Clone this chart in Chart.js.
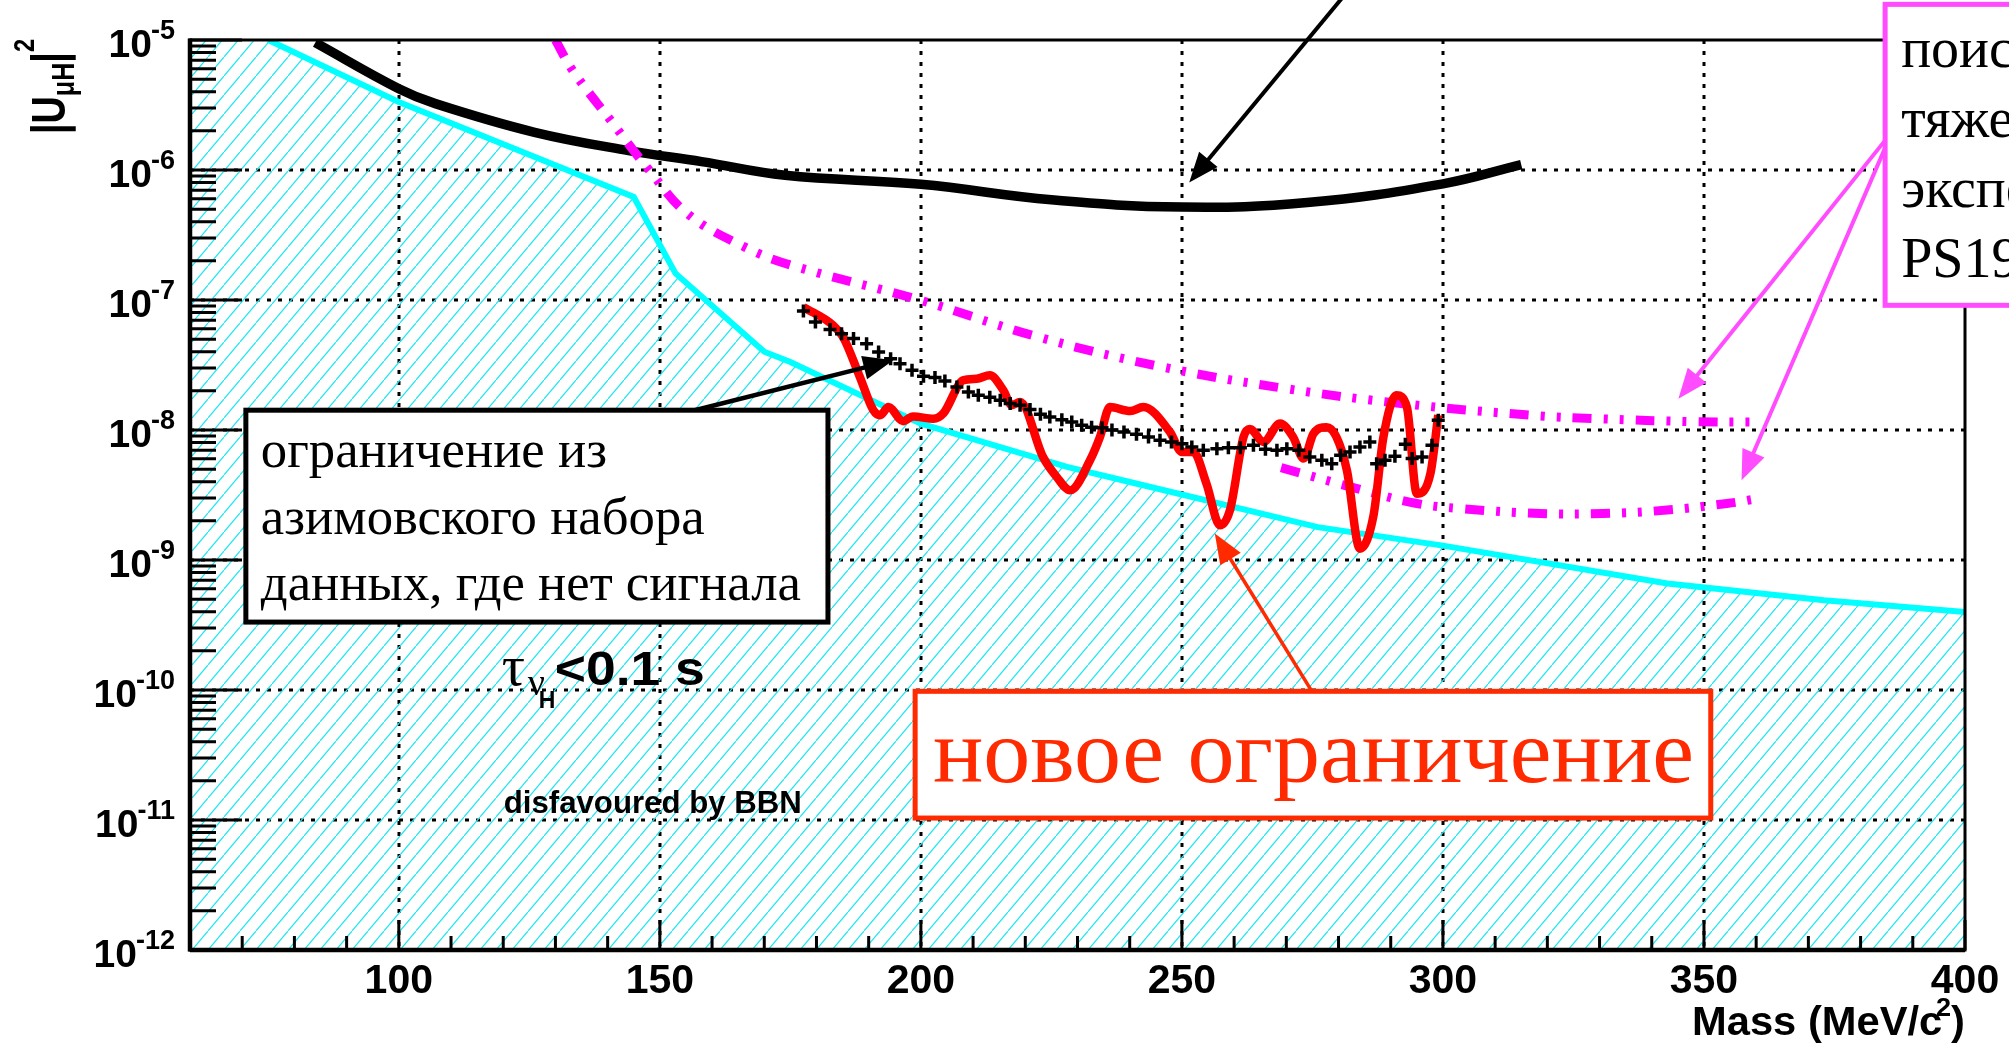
<!DOCTYPE html>
<html>
<head>
<meta charset="utf-8">
<script src="https://cdn.jsdelivr.net/npm/chart.js@4.4.1/dist/chart.umd.min.js"></script>
<style>
  html, body { margin: 0; padding: 0; background: #fff; }
  canvas { display: block; }
</style>
</head>
<body>
<canvas id="chart" width="2009" height="1046"></canvas>
<script>
// ---- axes ----
const xMin = 60, xMax = 400;
const yMin = 1e-12, yMax = 1e-5;
const xMajorTicks = [100, 150, 200, 250, 300, 350, 400];
const xMinorTicks = [70, 80, 90, 110, 120, 130, 140, 160, 170, 180, 190, 210, 220, 230, 240,
                     260, 270, 280, 290, 310, 320, 330, 340, 360, 370, 380, 390];
const yDecadeExps = [-12, -11, -10, -9, -8, -7, -6, -5];

// ---- BBN bound (cyan, hatched below) ----
const bbnMass = [75, 100, 145, 153, 170, 175, 200, 228, 240, 276, 300, 343, 373, 400];
const bbnU2   = [1e-5, 3.33e-6, 6.2e-7, 1.6e-7, 4.0e-8, 3.33e-8, 1.12e-8, 5.2e-9, 3.98e-9,
                 1.79e-9, 1.29e-9, 6.6e-10, 4.9e-10, 3.98e-10];

// ---- old limit (thick black) ----
const oldMass = [84, 100, 107, 126, 144, 158, 174, 200, 225, 250, 274, 300, 315];
const oldU2   = [9.55e-6, 4.22e-6, 3.24e-6, 1.95e-6, 1.41e-6, 1.16e-6, 9.1e-7, 7.76e-7, 5.9e-7,
                 5.19e-7, 5.62e-7, 7.83e-7, 1.10e-6];

// ---- PS191 (magenta dash-dot), two curves ----
const ps191UpMass = [130, 133.3, 140.6, 148, 155.3, 166.3, 175, 200, 222.5, 246.3, 270, 292, 316.7, 330, 348, 360];
const ps191UpU2   = [1e-5, 5.83e-6, 2.40e-6, 9.93e-7, 4.61e-7, 2.55e-7, 1.86e-7, 9.93e-8, 5.19e-8,
                     3.05e-8, 2.08e-8, 1.60e-8, 1.30e-8, 1.22e-8, 1.16e-8, 1.15e-8];
const ps191LoMass = [269, 284.7, 295, 303.3, 318.6, 330.7, 342.9, 354.4, 360];
const ps191LoU2   = [5.13e-9, 3.44e-9, 2.72e-9, 2.49e-9, 2.28e-9, 2.28e-9, 2.42e-9, 2.72e-9, 2.95e-9];

// ---- new limit (red) ----
const newMass = [177.5, 183.2, 185.1, 188.3, 190.9, 192.2, 193.8, 196.6, 198.5, 202.4, 204.3, 208.1,
                 210.7, 213.2, 215.8, 217.4, 219, 223.4, 226, 228.6, 232.4, 234.3, 236.2, 240.1,
                 242.6, 247.7, 250, 252.2, 254.7, 257.3, 259.2, 261.8, 263, 265.6, 268.8, 271.3,
                 273.3, 275.2, 277.7, 279.6, 281.6, 284.1, 286.7, 288.6, 291.1, 293.1, 295, 297.6, 299.1];
const newU2   = [8.83e-8, 6.38e-8, 5.19e-8, 2.56e-8, 1.42e-8, 1.30e-8, 1.50e-8, 1.17e-8, 1.27e-8, 1.22e-8,
                 1.34e-8, 2.41e-8, 2.48e-8, 2.64e-8, 2.02e-8, 1.55e-8, 1.64e-8, 6.19e-9, 4.36e-9, 3.44e-9,
                 5.85e-9, 8.83e-9, 1.50e-8, 1.40e-8, 1.50e-8, 9.66e-9, 6.78e-9, 6.78e-9, 3.87e-9, 1.85e-9,
                 2.42e-9, 8.83e-9, 1.02e-8, 8.09e-9, 1.12e-8, 8.83e-9, 6.03e-9, 9.38e-9, 1.05e-8, 8.83e-9,
                 4.90e-9, 1.22e-9, 2.20e-9, 8.83e-9, 1.85e-8, 1.50e-8, 3.24e-9, 4.62e-9, 1.30e-8];

// ---- Asimov limit (black crosses) ----
const asimovMass = [177.5, 179.8, 182.6, 184.8, 187.1, 189.6, 191.9, 194.2, 196, 198.3, 200.5, 202.7,
                    204.6, 206.9, 209.1, 211, 213.2, 215.2, 217.1, 219, 220.9, 222.9, 224.7, 227,
                    228.9, 230.8, 232.7, 234.7, 236.6, 238.9, 241.3, 243.6, 245.8, 248, 250, 251.9,
                    254.1, 256.7, 258.9, 261.2, 263.7, 266, 268.2, 270.1, 272.4, 274.5, 276.8, 278.7,
                    280.4, 282.2, 284.1, 286, 287.3, 288.9, 290.8, 292.8, 294.1, 296, 297.9, 299.1];
const asimovU2   = [8.22e-8, 6.78e-8, 5.92e-8, 5.51e-8, 5.05e-8, 4.61e-8, 3.98e-8, 3.54e-8, 3.24e-8,
                    2.88e-8, 2.59e-8, 2.53e-8, 2.38e-8, 2.14e-8, 1.96e-8, 1.85e-8, 1.79e-8, 1.69e-8,
                    1.60e-8, 1.55e-8, 1.44e-8, 1.32e-8, 1.26e-8, 1.20e-8, 1.15e-8, 1.09e-8, 1.05e-8,
                    1.04e-8, 1.0e-8, 9.66e-9, 9.27e-9, 8.83e-9, 8.34e-9, 8.09e-9, 7.85e-9, 7.40e-9,
                    6.98e-9, 7.19e-9, 7.31e-9, 7.31e-9, 7.62e-9, 7.11e-9, 6.98e-9, 7.19e-9, 6.98e-9,
                    6.19e-9, 5.85e-9, 5.51e-9, 6.38e-9, 6.78e-9, 7.40e-9, 8.09e-9, 5.51e-9, 5.85e-9,
                    6.28e-9, 7.76e-9, 6.03e-9, 6.19e-9, 7.62e-9, 1.19e-8];

// ---- annotations, anchored in data units (mass, |U|^2) ----
const asimovBox = { x0: 70.7, x1: 182.2, y0: 1.42e-8, y1: 3.33e-10 };
const asimovText = ['ограничение из', 'азимовского набора', 'данных, где нет сигнала'];
const newBox = { x0: 198.9, x1: 351.3, y0: 9.77e-11, y1: 1.035e-11 };
const newText = 'новое ограничение';
const ps191Box = { x0: 384.7, x1: 480, y0: 1.88e-5, y1: 9.1e-8 };
const ps191Text = ['поиск', 'тяжелых', 'эксперимент', 'PS191'];
const arrows = [
  { from: [283.3, 2.82e-5], to: [251.4, 8.02e-7], color: '#000', width: 4 },
  { from: [156.7, 1.42e-8], to: [194.7, 3.44e-8], color: '#000', width: 4.5 },
  { from: [274.9, 9.77e-11], to: [256.3, 1.6e-9], color: '#ff2a00', width: 3.5 },
  { from: [384.7, 1.69e-6], to: [345.1, 1.74e-8], color: '#ff4cff', width: 4 },
  { from: [384.7, 1.48e-6], to: [357.2, 4.1e-9], color: '#ff4cff', width: 4 }
];
const tauAnchor = [120.1, 1.09e-10];
const bbnAnchor = [120.1, 1.13e-11];

const zip = (xs, ys) => xs.map((x, i) => ({ x, y: ys[i] }));

// cyan diagonal hatching
function makeHatch() {
  const w = 16, h = 19;
  const c = document.createElement('canvas');
  c.width = w; c.height = h;
  const g = c.getContext('2d');
  g.strokeStyle = '#1ee6f0';
  g.lineWidth = 1.2;
  g.beginPath();
  g.moveTo(-1, h + h / w); g.lineTo(w + 1, -h / w);
  g.stroke();
  return g.createPattern(c, 'repeat');
}

function fitText(ctx, text, x, y, font, width) {
  ctx.font = font;
  const w = ctx.measureText(text).width;
  ctx.save();
  ctx.translate(x, y);
  ctx.scale(width / w, 1);
  ctx.fillText(text, 0, 0);
  ctx.restore();
}

function drawArrow(ctx, x0, y0, x1, y1, color, lw) {
  const a = Math.atan2(y1 - y0, x1 - x0);
  const hl = 30, hw = 12;
  ctx.save();
  ctx.strokeStyle = color; ctx.fillStyle = color; ctx.lineWidth = lw;
  ctx.beginPath();
  ctx.moveTo(x0, y0);
  ctx.lineTo(x1 - Math.cos(a) * hl * 0.9, y1 - Math.sin(a) * hl * 0.9);
  ctx.stroke();
  ctx.translate(x1, y1); ctx.rotate(a);
  ctx.beginPath();
  ctx.moveTo(0, 0); ctx.lineTo(-hl, hw); ctx.lineTo(-hl, -hw); ctx.closePath();
  ctx.fill();
  ctx.restore();
}

const rootFrame = {
  id: 'rootFrame',
  beforeDatasetsDraw(chart) {
    // dotted grid
    const { ctx, chartArea: a, scales: { x, y } } = chart;
    ctx.save();
    ctx.strokeStyle = '#000';
    ctx.lineWidth = 3;
    ctx.setLineDash([4, 7]);
    ctx.beginPath();
    xMajorTicks.forEach(m => {
      if (m >= xMax) return;
      const px = Math.round(x.getPixelForValue(m));
      ctx.moveTo(px, a.top); ctx.lineTo(px, a.bottom);
    });
    yDecadeExps.forEach(e => {
      const v = Math.pow(10, e);
      if (v <= yMin || v >= yMax) return;
      const py = Math.round(y.getPixelForValue(v));
      ctx.moveTo(a.left, py); ctx.lineTo(a.right, py);
    });
    ctx.stroke();
    ctx.restore();
  },
  afterDatasetsDraw(chart) {
    const { ctx, chartArea: a, scales: { x, y } } = chart;
    ctx.save();
    ctx.strokeStyle = '#000';
    ctx.lineWidth = 3;
    ctx.beginPath();
    // y ticks: decades long, 2..9 short
    yDecadeExps.forEach(e => {
      const py = y.getPixelForValue(Math.pow(10, e));
      ctx.moveTo(a.left, py); ctx.lineTo(a.left + 52, py);
      if (e < -5) {
        for (let k = 2; k <= 9; k++) {
          const pk = y.getPixelForValue(k * Math.pow(10, e));
          ctx.moveTo(a.left, pk); ctx.lineTo(a.left + 26, pk);
        }
      }
    });
    // x ticks
    xMajorTicks.forEach(m => {
      const px = x.getPixelForValue(m);
      ctx.moveTo(px, a.bottom); ctx.lineTo(px, a.bottom - 30);
    });
    xMinorTicks.forEach(m => {
      const px = x.getPixelForValue(m);
      ctx.moveTo(px, a.bottom); ctx.lineTo(px, a.bottom - 14);
    });
    ctx.stroke();
    // frame
    ctx.lineWidth = 3;
    ctx.strokeRect(a.left, a.top, a.right - a.left, a.bottom - a.top);
    ctx.lineWidth = 4.5;
    ctx.beginPath();
    ctx.moveTo(a.left, a.top - 1.5); ctx.lineTo(a.left, a.bottom + 1.5);
    ctx.moveTo(a.left, a.bottom); ctx.lineTo(a.right, a.bottom);
    ctx.stroke();
    ctx.restore();
  },
  afterDraw(chart) {
    const { ctx, chartArea: a, scales: { x, y } } = chart;
    const P = (m, v) => [x.getPixelForValue(m), y.getPixelForValue(v)];
    ctx.save();
    ctx.fillStyle = '#000';
    ctx.textBaseline = 'alphabetic';

    // y tick labels 10^n
    yDecadeExps.forEach(e => {
      const py = y.getPixelForValue(Math.pow(10, e));
      const xr = a.left - 15;
      const sup = String(e);
      ctx.font = 'bold 27px "Liberation Sans"';
      const ws = ctx.measureText(sup).width;
      ctx.textAlign = 'left';
      ctx.fillText(sup, xr - ws, py - 1);
      ctx.font = 'bold 39px "Liberation Sans"';
      const wm = ctx.measureText('10').width;
      ctx.fillText('10', xr - ws - wm + 1, py + 17);
    });

    // x tick labels
    ctx.font = 'bold 41px "Liberation Sans"';
    ctx.textAlign = 'center';
    xMajorTicks.forEach(m => ctx.fillText(String(m), x.getPixelForValue(m), a.bottom + 43));
    ctx.textAlign = 'left';

    // x title: Mass (MeV/c^2)
    {
      const f1 = 'bold 40px "Liberation Sans"', f2 = 'bold 26px "Liberation Sans"';
      ctx.font = f1; const w1 = ctx.measureText('Mass (MeV/c').width; const w3 = ctx.measureText(')').width;
      ctx.font = f2; const w2 = ctx.measureText('2').width;
      const total = w1 + w2 - 6 + w3;
      const s = 273 / total;
      ctx.save();
      ctx.translate(a.right - 273, a.bottom + 85);
      ctx.scale(s, 1);
      ctx.font = f1; ctx.fillText('Mass (MeV/c', 0, 0);
      ctx.font = f2; ctx.fillText('2', w1 - 6, -19);
      ctx.font = f1; ctx.fillText(')', w1 + w2 - 6, 0);
      ctx.restore();
    }

    // y title: |U_{muH}|^2, rotated
    {
      const fm = 'bold 48px "Liberation Sans"', fs = 'bold 32px "Liberation Sans"', fp = 'bold 30px "Liberation Sans"';
      const parts = [['|U', fm, 0], ['\u03bcH', fs, 9], ['|', fm, 0], ['2', fp, -31]];
      let total = 0;
      parts.forEach(p => { ctx.font = p[1]; p.push(ctx.measureText(p[0]).width); total += p[3]; });
      const s = 95 / total;
      ctx.save();
      ctx.translate(65, 134);
      ctx.rotate(-Math.PI / 2);
      ctx.scale(s, 1);
      let cx = 0;
      parts.forEach(p => { ctx.font = p[1]; ctx.fillText(p[0], cx, p[2]); cx += p[3]; });
      ctx.restore();
    }

    // tau label
    {
      const [tx, ty] = P(tauAnchor[0], tauAnchor[1]);
      ctx.font = '58px "Liberation Serif"';
      ctx.fillText('\u03c4', tx - 2, ty);
      ctx.font = '38px "Liberation Serif"';
      ctx.fillText('\u03bd', tx + 24, ty + 10);
      ctx.font = 'bold 23px "Liberation Sans"';
      ctx.fillText('H', tx + 35, ty + 23);
      fitText(ctx, '<0.1 s', tx + 51, ty, 'bold 48px "Liberation Sans"', 150);
      const [bx, by] = P(bbnAnchor[0], bbnAnchor[1]);
      fitText(ctx, 'disfavoured by BBN', bx, by, 'bold 31px "Liberation Sans"', 298);
    }

    // arrows
    arrows.forEach(r => {
      const [x0, y0] = P(r.from[0], r.from[1]);
      const [x1, y1] = P(r.to[0], r.to[1]);
      drawArrow(ctx, x0, y0, x1, y1, r.color, r.width);
    });

    // asimov box
    {
      const [l, t] = P(asimovBox.x0, asimovBox.y0);
      const [r, b] = P(asimovBox.x1, asimovBox.y1);
      ctx.fillStyle = '#fff'; ctx.fillRect(l, t, r - l, b - t);
      ctx.strokeStyle = '#000'; ctx.lineWidth = 5; ctx.strokeRect(l, t, r - l, b - t);
      ctx.fillStyle = '#000';
      ctx.font = '52px "Liberation Serif"';
      const s = 540 / ctx.measureText(asimovText[2]).width;
      asimovText.forEach((line, i) => {
        ctx.save();
        ctx.translate(l + 15, t + 57 + i * 66.5);
        ctx.scale(s, 1);
        ctx.fillText(line, 0, 0);
        ctx.restore();
      });
    }

    // new limit box
    {
      const [l, t] = P(newBox.x0, newBox.y0);
      const [r, b] = P(newBox.x1, newBox.y1);
      ctx.fillStyle = '#fff'; ctx.fillRect(l, t, r - l, b - t);
      ctx.strokeStyle = '#ff2a00'; ctx.lineWidth = 5; ctx.strokeRect(l, t, r - l, b - t);
      ctx.fillStyle = '#ff2a00';
      fitText(ctx, newText, (l + r) / 2 - 380, t + 91, '90px "Liberation Serif"', 761);
    }

    // PS191 box (runs off the right edge)
    {
      const [l, t] = P(ps191Box.x0, ps191Box.y0);
      const [r, b] = P(ps191Box.x1, ps191Box.y1);
      ctx.fillStyle = '#fff'; ctx.fillRect(l, t, r - l, b - t);
      ctx.strokeStyle = '#ff4cff'; ctx.lineWidth = 5; ctx.strokeRect(l, t, r - l, b - t);
      ctx.fillStyle = '#000';
      ctx.font = '56px "Liberation Serif"';
      ps191Text.forEach((line, i) => ctx.fillText(line, l + 16, t + 63 + i * 70));
    }
    ctx.restore();
  }
};

new Chart(document.getElementById('chart'), {
  type: 'line',
  data: {
    datasets: [
      { label: 'Asimov', data: zip(asimovMass, asimovU2), showLine: false, pointStyle: 'cross',
        pointRadius: 6.5, pointBorderWidth: 3.5, borderColor: '#000', backgroundColor: '#000', order: 1 },
      { label: 'new limit', data: zip(newMass, newU2), borderColor: '#ff0000', borderWidth: 8.5,
        cubicInterpolationMode: 'monotone', pointRadius: 0, order: 2 },
      { label: 'PS191 up', data: zip(ps191UpMass, ps191UpU2), borderColor: '#ff00ff', borderWidth: 9,
        borderDash: [19, 12, 4, 12, 4, 12], tension: 0.4, pointRadius: 0, order: 3 },
      { label: 'PS191 low', data: zip(ps191LoMass, ps191LoU2), borderColor: '#ff00ff', borderWidth: 9,
        borderDash: [19, 12, 4, 12, 4, 12], tension: 0.4, pointRadius: 0, order: 3 },
      { label: 'old limit', data: zip(oldMass, oldU2), borderColor: '#000', borderWidth: 9.5,
        tension: 0.4, pointRadius: 0, order: 4 },
      { label: 'BBN', data: zip(bbnMass, bbnU2), borderColor: '#00ffff', borderWidth: 6,
        tension: 0, pointRadius: 0, order: 5 },
      { label: 'BBN hatch', data: [{ x: xMin, y: yMax }].concat(zip(bbnMass, bbnU2)),
        borderWidth: 0, borderColor: 'rgba(0,0,0,0)', backgroundColor: makeHatch(),
        fill: 'start', pointRadius: 0, order: 10 }
    ]
  },
  options: {
    responsive: false,
    animation: false,
    devicePixelRatio: 1,
    layout: { padding: { left: 190, top: 40, right: 44, bottom: 96 } },
    datasets: { line: { clip: 0 } },
    plugins: { legend: { display: false }, tooltip: { enabled: false } },
    scales: {
      x: { type: 'linear', min: xMin, max: xMax, display: false },
      y: { type: 'logarithmic', min: yMin, max: yMax, display: false }
    }
  },
  plugins: [rootFrame]
});
</script>
</body>
</html>
